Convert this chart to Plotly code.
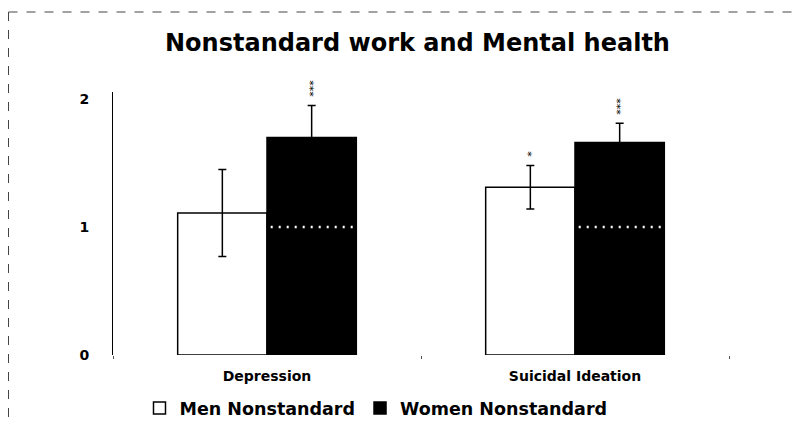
import plotly.graph_objects as go

# ---- data ----
categories = ["Depression", "Suicidal Ideation"]
men_values = [1.11, 1.31]
men_errors = [0.34, 0.17]
women_values = [1.70, 1.66]
women_errors = [0.25, 0.15]
men_sig = ["", "*"]
women_sig = ["***", "***"]
reference_value = 1.0
y_tick_vals = [0, 1, 2]
y_tick_text = ["0", "1", "2"]
series_names = ["Men Nonstandard", "Women Nonstandard"]
title_text = "Nonstandard work and Mental health"

FONT = "DejaVu Sans"
BARGAP = 0.42
bar_w = (1 - BARGAP) / 2

# figure geometry (page body has an 8px margin)
W, H = 798, 417
L, R, T, B = 105, 721, 84, 347

fig = go.Figure()
fig.add_bar(
    name=series_names[0], x=categories, y=men_values,
    marker=dict(color="white", line=dict(color="black", width=1.5)),
    error_y=dict(type="data", array=men_errors, visible=True,
                 color="black", thickness=1.5, width=4),
)
fig.add_bar(
    name=series_names[1], x=categories, y=women_values,
    marker=dict(color="black", line=dict(color="black", width=1.5)),
    error_y=dict(type="data", array=women_errors, visible=True,
                 color="black", thickness=1.5, width=4),
)

def px_x(p):
    return (p - L) / (R - L)
def px_y(p):
    return (B - p) / (B - T)

shapes = []
# white dotted reference line across the women bars
for i, _ in enumerate(categories):
    shapes.append(dict(type="line", xref="x", yref="y",
                       x0=i + 0.012, x1=i + bar_w - 0.008,
                       y0=reference_value, y1=reference_value,
                       line=dict(color="white", width=2.5, dash="2px,6px")))

# scanned page frame (dashed)
shapes.append(dict(type="line", xref="paper", yref="paper",
                   x0=px_x(0.5), x1=px_x(W), y0=px_y(4), y1=px_y(4),
                   line=dict(color="#444", width=1, dash="dash")))
shapes.append(dict(type="line", xref="paper", yref="paper",
                   x0=px_x(0.5), x1=px_x(0.5), y0=px_y(4), y1=px_y(H),
                   line=dict(color="#444", width=1, dash="dash")))

annotations = []
# significance stars stacked vertically above the error bars
def add_stars(sig_list, values, errors, side):
    for i, sig in enumerate(sig_list):
        if not sig:
            continue
        annotations.append(dict(
            x=categories[i], y=values[i] + errors[i], xref="x", yref="y",
            xshift=side * bar_w / 2 * (R - L) / 2 - 3, yshift=6,
            text=sig, textangle=90, showarrow=False, yanchor="bottom",
            font=dict(family=FONT, size=11, color="black")))
add_stars(men_sig, men_values, men_errors, -1)
add_stars(women_sig, women_values, women_errors, 1)

fig.update_layout(
    width=W, height=H,
    margin=dict(l=L, r=W - R, t=T, b=H - B, pad=0, autoexpand=False),
    paper_bgcolor="white", plot_bgcolor="white",
    barmode="group", bargap=BARGAP, bargroupgap=0,
    title=dict(text=title_text, xref="container", x=409.5 / W, xanchor="center",
               yref="container", y=1 - 35 / H, yanchor="middle",
               font=dict(family=FONT, size=24, color="black", weight="bold")),
    legend=dict(orientation="h", x=px_x(368), xanchor="center",
                y=px_y(400), yanchor="middle",
                font=dict(family=FONT, size=17.5, color="black", weight="bold"),
                bgcolor="rgba(0,0,0,0)", itemwidth=30, traceorder="normal"),
    shapes=shapes, annotations=annotations,
    showlegend=True,
)
fig.update_xaxes(type="category", range=[-0.5, 1.5], showline=False, showgrid=False,
                 zeroline=False, tickson="boundaries", ticks="outside", ticklen=3,
                 tickcolor="#555", ticklabelstandoff=11,
                 tickfont=dict(family=FONT, size=14, color="black", weight="bold"))
fig.update_yaxes(range=[0, (B - T) / 128], tickvals=y_tick_vals, ticktext=y_tick_text,
                 showline=True, linecolor="black", linewidth=1, showgrid=False,
                 zeroline=False, ticks="", ticklabelstandoff=20,
                 tickfont=dict(family=FONT, size=14, color="black", weight="bold"))

fig.write_html("out.html")
